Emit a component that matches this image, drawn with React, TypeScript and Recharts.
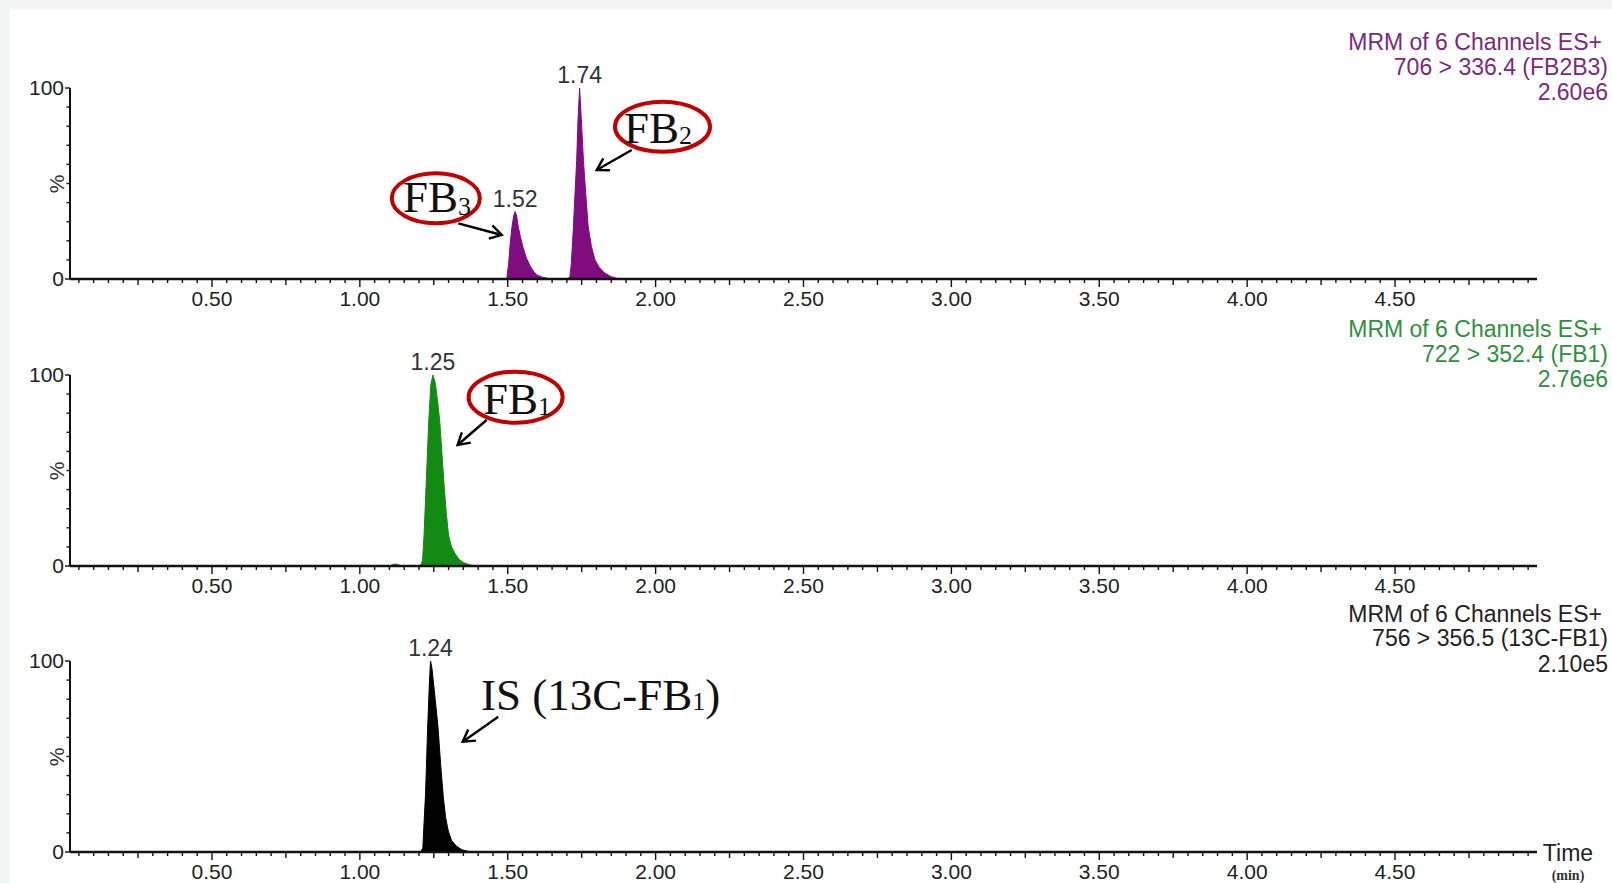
import { AreaChart, Area, XAxis, YAxis, ReferenceDot } from 'recharts';

const SANS = '"Liberation Sans", Arial, sans-serif';
const SERIF = '"Liberation Serif", "Times New Roman", serif';

// axis labels
const xLabels = ['0.50', '1.00', '1.50', '2.00', '2.50', '3.00', '3.50', '4.00', '4.50'];
const yLabels = ['0', '100'];
const xTicks = Array.from({ length: 99 }, (_, i) => +((i + 1) * 0.05).toFixed(2));
const yTicks = [0, 10, 20, 30, 40, 50, 60, 70, 80, 90, 100];

// 706 > 336.4 (FB2B3)
const fb2b3Time = [0.02, 1.49, 1.497, 1.503, 1.508, 1.514, 1.52, 1.525, 1.53, 1.536, 1.543, 1.551, 1.563, 1.576, 1.59, 1.6, 1.62, 1.64, 1.66, 1.7, 1.71, 1.715, 1.722, 1.733, 1.738, 1.743, 1.75, 1.756, 1.764, 1.772, 1.783, 1.795, 1.81, 1.825, 1.835, 1.85, 1.87, 1.89, 4.98];
const fb2b3Pct = [0, 0, 0.5, 8, 18, 27, 33, 35.3, 33, 27, 22, 17, 11, 6.7, 3.5, 2, 0.8, 0.2, 0, 0, 1, 8, 27, 62, 85, 100, 80, 62, 44, 27.5, 17, 10, 6, 3.5, 2.5, 1.2, 0.3, 0, 0];

// 722 > 352.4 (FB1)
const fb1Time = [0.02, 1.1, 1.112, 1.12, 1.128, 1.14, 1.205, 1.212, 1.217, 1.224, 1.233, 1.24, 1.247, 1.255, 1.263, 1.27, 1.277, 1.285, 1.292, 1.3, 1.31, 1.322, 1.335, 1.35, 1.37, 1.39, 4.98];
const fb1Pct = [0, 0, 0.8, 1, 0.8, 0, 0, 3, 16, 42, 76, 95, 100, 96, 86, 76, 60, 42, 28, 16, 10, 6.5, 3.5, 1.8, 0.7, 0, 0];

// 756 > 356.5 (13C-FB1)
const isTime = [0.02, 1.205, 1.213, 1.216, 1.222, 1.229, 1.235, 1.239, 1.244, 1.25, 1.258, 1.265, 1.273, 1.282, 1.29, 1.299, 1.31, 1.327, 1.345, 1.367, 1.38, 4.98];
const isPct = [0, 0, 2, 12, 30, 64, 88, 100, 96, 87, 75, 64, 46, 29, 18, 11, 6, 3, 1.2, 0.3, 0, 0];

const XTick = (props: any) => {
  const { x, y, payload } = props;
  const s = Number(payload.value).toFixed(2);
  const h = Math.round(payload.value * 100);
  const len = h % 50 === 0 ? 8 : h % 25 === 0 ? 6 : 4;
  return (
    <g>
      <line x1={x} x2={x} y1={y} y2={y + len} stroke="#111" strokeWidth={1.4} />
      {xLabels.includes(s) ? (
        <text x={x} y={y + 27} textAnchor="middle" fontSize={21} fill="#222" fontFamily={SANS}>
          {s}
        </text>
      ) : null}
    </g>
  );
};

const YTick = (props: any) => {
  const { x, y, payload } = props;
  const s = String(payload.value);
  const shown = yLabels.includes(s);
  return (
    <g>
      <line x1={x} x2={x - (shown ? 5 : 3.5)} y1={y} y2={y} stroke="#111" strokeWidth={1.4} />
      {shown ? (
        <text x={x - 6} y={y + 7} textAnchor="end" fontSize={21} fill="#222" fontFamily={SANS}>
          {s}
        </text>
      ) : null}
    </g>
  );
};

const PeakLabel = (props: any) => {
  const { viewBox, value } = props;
  return (
    <text x={viewBox.x} y={viewBox.y - 5} textAnchor="middle" fontSize={23} fill="#333" fontFamily={SANS}>
      {value}
    </text>
  );
};

const Panel = ({ top, times, pcts, color, textColor, header, headerY, peaks }: any) => {
  const data = times.map((t: number, i: number) => ({ t, v: pcts[i] }));
  return (
    <div style={{ position: 'absolute', left: 0, top, width: 1612, height: 284 }}>
      <AreaChart width={1612} height={284} data={data} margin={{ top: 60, right: 75, bottom: 3, left: 50 }}>
        <XAxis
          dataKey="t"
          type="number"
          domain={[0.02, 4.98]}
          ticks={xTicks}
          interval={0}
          tickSize={0}
          tickMargin={0}
          tickLine={false}
          height={30}
          axisLine={{ stroke: '#111', strokeWidth: 2.5 }}
          tick={<XTick />}
          allowDataOverflow
        />
        <YAxis
          type="number"
          domain={[0, 100]}
          ticks={yTicks}
          interval={0}
          width={20}
          tickSize={0}
          tickMargin={0}
          tickLine={false}
          axisLine={{ stroke: '#111', strokeWidth: 2 }}
          tick={<YTick />}
        />
        <Area
          type="linear"
          dataKey="v"
          stroke={color}
          strokeWidth={1}
          fill={color}
          fillOpacity={1}
          dot={false}
          activeDot={false}
          isAnimationActive={false}
        />
        {peaks.map((p: any) => (
          <ReferenceDot
            key={p.label}
            x={p.t}
            y={p.v}
            r={0}
            fill="none"
            stroke="none"
            label={<PeakLabel value={p.label} />}
          />
        ))}
      </AreaChart>
      <svg width={1612} height={284} style={{ position: 'absolute', left: 0, top: 0, overflow: 'visible', pointerEvents: 'none' }}>
        {header.map((line: string, i: number) => (
          <text key={i} x={i === 0 ? 1602 : 1608} y={headerY[i]} textAnchor="end" fontSize={23} fill={textColor} fontFamily={SANS}>
            {line}
          </text>
        ))}
        <text x={56} y={156} textAnchor="middle" dominantBaseline="central" fontSize={21} fill="#333" fontFamily={SANS} transform="rotate(-90 56 156)">
          %
        </text>
      </svg>
    </div>
  );
};

const Callouts = () => {
  const marker = 'url(#arrowHead)';
  return (
    <svg width={1612} height={883} style={{ position: 'absolute', left: 0, top: 0, pointerEvents: 'none' }}>
      <defs>
        <marker id="arrowHead" viewBox="-14 -8 16 16" refX={0} refY={0} markerWidth={16} markerHeight={16} markerUnits="userSpaceOnUse" orient="auto">
          <path d="M-11.5,-6.8 L0,0 L-11.5,6.8" fill="none" stroke="#000" strokeWidth={2.4} />
        </marker>
      </defs>
      {/* FB2 */}
      <ellipse cx={662.5} cy={126.7} rx={47.5} ry={25} fill="none" stroke="#c00000" strokeWidth={4} />
      <text x={624} y={143} fontSize={45} fontFamily={SERIF} fill="#111">
        FB<tspan fontSize={26} dy={1}>2</tspan>
      </text>
      <line x1={631.7} y1={150} x2={596.7} y2={170} stroke="#000" strokeWidth={2.4} markerEnd={marker} />
      {/* FB3 */}
      <ellipse cx={435.8} cy={198.3} rx={44} ry={25} fill="none" stroke="#c00000" strokeWidth={4} />
      <text x={403} y={212} fontSize={45} fontFamily={SERIF} fill="#111">
        FB<tspan fontSize={26} dy={3}>3</tspan>
      </text>
      <line x1={458.3} y1={223.3} x2={501.7} y2={235} stroke="#000" strokeWidth={2.4} markerEnd={marker} />
      {/* FB1 */}
      <ellipse cx={515.6} cy={397.2} rx={47} ry={25.5} fill="none" stroke="#c00000" strokeWidth={4} />
      <text x={483} y={414} fontSize={45} fontFamily={SERIF} fill="#111">
        FB<tspan fontSize={26} dy={1}>1</tspan>
      </text>
      <line x1={486.6} y1={420} x2={457.6} y2={445} stroke="#000" strokeWidth={2.4} markerEnd={marker} />
      {/* IS */}
      <text x={481} y={710} fontSize={45} fontFamily={SERIF} fill="#111">
        IS (13C-FB<tspan fontSize={26}>1</tspan>)
      </text>
      <line x1={498.3} y1={716.7} x2={462.7} y2={741.7} stroke="#000" strokeWidth={2.4} markerEnd={marker} />
      {/* time axis title */}
      <text x={1568} y={861} textAnchor="middle" fontSize={23} fill="#222" fontFamily={SANS}>
        Time
      </text>
      <text x={1568} y={880} textAnchor="middle" fontSize={14} fontWeight="bold" fill="#333" fontFamily={SERIF}>
        (min)
      </text>
    </svg>
  );
};

const App = () => {
  return (
    <div style={{ position: 'fixed', left: 0, top: 0, width: 1612, height: 883, background: '#f3f5f4', overflow: 'hidden' }}>
      <div style={{ position: 'absolute', left: 10, top: 9, right: 0, bottom: 0, background: '#ffffff' }} />
      <Panel
        top={27.5}
        times={fb2b3Time}
        pcts={fb2b3Pct}
        color="#7f0d7f"
        textColor="#7b2a7b"
        header={['MRM of 6 Channels ES+', '706 > 336.4 (FB2B3)', '2.60e6']}
        headerY={[21.5, 46.5, 72]}
        peaks={[
          { t: 1.525, v: 35.3, label: '1.52' },
          { t: 1.743, v: 100, label: '1.74' },
        ]}
      />
      <Panel
        top={315}
        times={fb1Time}
        pcts={fb1Pct}
        color="#138a13"
        textColor="#2f8f3f"
        header={['MRM of 6 Channels ES+', '722 > 352.4 (FB1)', '2.76e6']}
        headerY={[22, 47, 72]}
        peaks={[{ t: 1.247, v: 100, label: '1.25' }]}
      />
      <Panel
        top={600.8}
        times={isTime}
        pcts={isPct}
        color="#000000"
        textColor="#222222"
        header={['MRM of 6 Channels ES+', '756 > 356.5 (13C-FB1)', '2.10e5']}
        headerY={[21, 45, 71]}
        peaks={[{ t: 1.239, v: 100, label: '1.24' }]}
      />
      <Callouts />
    </div>
  );
};

export default App;
